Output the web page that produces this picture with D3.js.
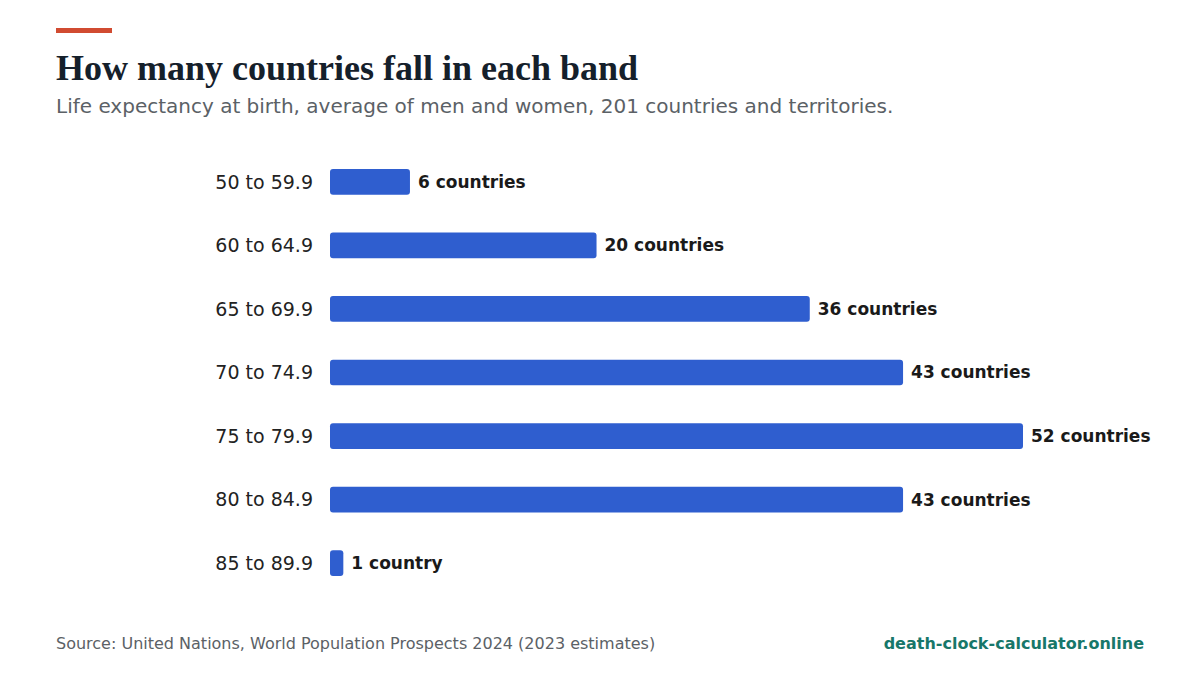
<!DOCTYPE html>
<html>
<head>
<meta charset="utf-8">
<script src="https://cdn.jsdelivr.net/npm/d3@7"></script>
<style>
  html, body { margin: 0; padding: 0; background: #fff; }
  svg { display: block; }
</style>
</head>
<body>
<div id="chart"></div>
<script>
// life expectancy bands and how many countries sit in each
var bands = ["50 to 59.9", "60 to 64.9", "65 to 69.9", "70 to 74.9", "75 to 79.9", "80 to 84.9", "85 to 89.9"];
var counts = [6, 20, 36, 43, 52, 43, 1];

var width = 1200,
    height = 675;

var svg = d3.select("#chart")
    .append("svg")
    .attr("width", width)
    .attr("height", height)
    .style("font-family", "'DejaVu Sans', sans-serif");

// header
svg.append("rect")
    .attr("x", 56).attr("y", 28)
    .attr("width", 56).attr("height", 5)
    .attr("fill", "#d14b31");

svg.append("text")
    .attr("x", 56).attr("y", 80)
    .attr("font-family", "'Liberation Serif', 'Times New Roman', serif")
    .attr("font-weight", "bold")
    .attr("font-size", 36)
    .attr("fill", "#15202b")
    .text("How many countries fall in each band");

svg.append("text")
    .attr("x", 56).attr("y", 113)
    .attr("font-size", 20)
    .attr("fill", "#5b6166")
    .text("Life expectancy at birth, average of men and women, 201 countries and territories.");

var data = bands.map((b, i) => ({band: b, n: counts[i]}));

var x = d3.scaleLinear()
    .domain([0, d3.max(counts)])
    .range([330, 1023]);

var y = d3.scaleBand()
    .domain(bands)
    .range([150, 595])
    .paddingInner(0.595)
    .paddingOuter(0.3);

var row = svg.selectAll("g.row")
    .data(data)
    .enter().append("g")
    .attr("class", "row");

row.append("rect")
    .attr("x", x(0))
    .attr("y", d => y(d.band))
    .attr("width", d => x(d.n) - x(0))
    .attr("height", y.bandwidth())
    .attr("rx", 3)
    .attr("fill", "#2f5ecf");

row.append("text")
    .attr("x", 313)
    .attr("y", d => y(d.band) + y.bandwidth() / 2)
    .attr("dy", "0.35em")
    .attr("text-anchor", "end")
    .attr("font-size", 19)
    .attr("fill", "#222")
    .text(d => d.band);

row.append("text")
    .attr("x", d => x(d.n) + 8)
    .attr("y", d => y(d.band) + y.bandwidth() / 2)
    .attr("dy", "0.35em")
    .attr("font-size", 17)
    .attr("font-weight", "bold")
    .attr("fill", "#1a1a1a")
    .text(d => d.n + (d.n === 1 ? " country" : " countries"));

// footer
svg.append("text")
    .attr("x", 56).attr("y", 649)
    .attr("font-size", 16)
    .attr("fill", "#5b6166")
    .text("Source: United Nations, World Population Prospects 2024 (2023 estimates)");

svg.append("text")
    .attr("x", 1144).attr("y", 649)
    .attr("text-anchor", "end")
    .attr("font-size", 16)
    .attr("font-weight", "bold")
    .attr("fill", "#17776a")
    .text("death-clock-calculator.online");
</script>
</body>
</html>
